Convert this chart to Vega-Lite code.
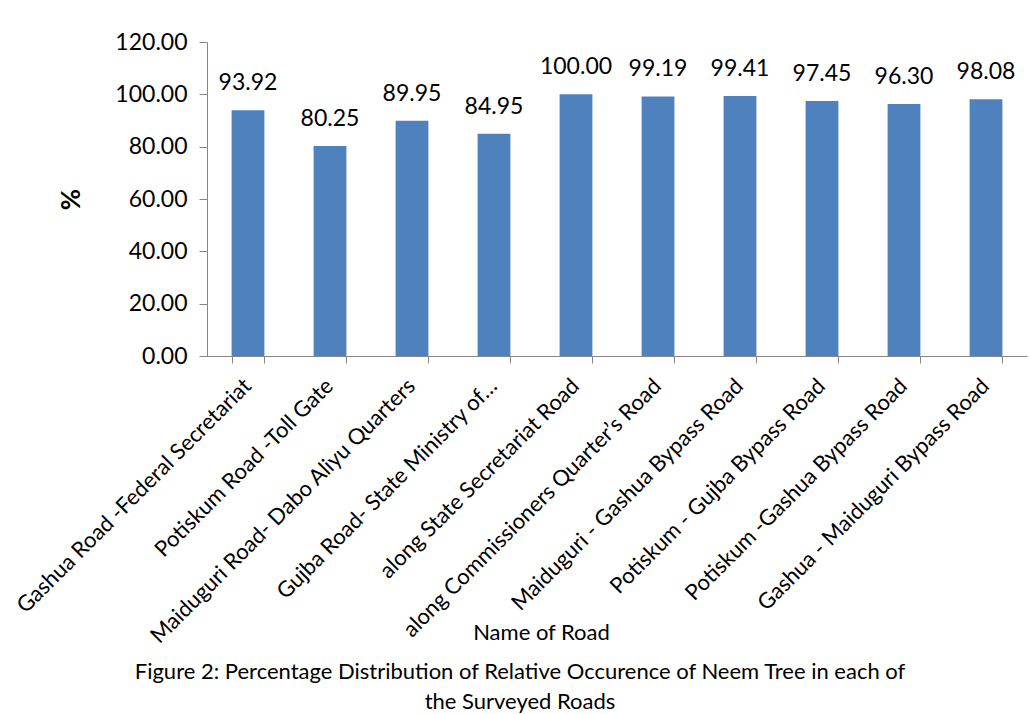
{
  "$schema": "https://vega.github.io/schema/vega-lite/v6.json",
  "width": 820,
  "height": 314,
  "autosize": "none",
  "padding": {"left": 207, "top": 42, "right": 2, "bottom": 358},
  "background": "white",
  "config": {"font": "Lato", "view": {"stroke": null}},
  "title": {
    "text": ["Figure 2: Percentage Distribution of Relative Occurence of Neem Tree in each of", "the Surveyed Roads"],
    "orient": "bottom",
    "anchor": "middle",
    "dx": -97,
    "offset": 15,
    "fontSize": 22,
    "fontWeight": "normal",
    "color": "#000000",
    "lineHeight": 30
  },
  "data": {
    "values": [
      {"road": "Gashua Road -Federal Secretariat", "pct": 93.92},
      {"road": "Potiskum Road  -Toll Gate", "pct": 80.25},
      {"road": "Maiduguri Road- Dabo Aliyu Quarters", "pct": 89.95},
      {"road": "Gujba Road- State Ministry of…", "pct": 84.95},
      {"road": "along State Secretariat Road", "pct": 100.00},
      {"road": "along Commissioners Quarter’s Road", "pct": 99.19},
      {"road": "Maiduguri - Gashua Bypass Road", "pct": 99.41},
      {"road": "Potiskum - Gujba Bypass Road", "pct": 97.45},
      {"road": "Potiskum -Gashua Bypass Road", "pct": 96.30},
      {"road": "Gashua - Maiduguri Bypass Road", "pct": 98.08}
    ]
  },
  "encoding": {
    "x": {
      "field": "road",
      "type": "nominal",
      "sort": null,
      "scale": {"paddingInner": 0.6, "paddingOuter": 0.3},
      "axis": {
        "title": "Name of Road",
        "titleFontSize": 22,
        "titleFontWeight": "normal",
        "titleColor": "#000000",
        "titleX": 334,
        "titleY": 266,
        "titleBaseline": "top",
        "labelAngle": -45,
        "labelFontSize": 22,
        "labelColor": "#000000",
        "labelLimit": 500,
        "labelPadding": 12,
        "labelOffset": -8,
        "domainColor": "#868686",
        "tickColor": "#868686",
        "tickBand": "extent",
        "tickSize": 7,
        "grid": false
      }
    },
    "y": {
      "field": "pct",
      "type": "quantitative",
      "scale": {"domain": [0, 120]},
      "axis": {
        "title": "%",
        "titleFontSize": 26,
        "titleFontWeight": "bold",
        "titleColor": "#000000",
        "titlePadding": 30,
        "values": [0, 20, 40, 60, 80, 100, 120],
        "format": ".2f",
        "labelFontSize": 23,
        "labelColor": "#000000",
        "labelPadding": 12,
        "domainColor": "#868686",
        "tickColor": "#868686",
        "tickSize": 8,
        "grid": false
      }
    }
  },
  "layer": [
    {"mark": {"type": "bar", "color": "#4F81BD"}},
    {
      "mark": {"type": "text", "fontSize": 23, "color": "#000000", "baseline": "alphabetic", "dy": -20},
      "encoding": {"text": {"field": "pct", "type": "quantitative", "format": ".2f"}}
    }
  ]
}
